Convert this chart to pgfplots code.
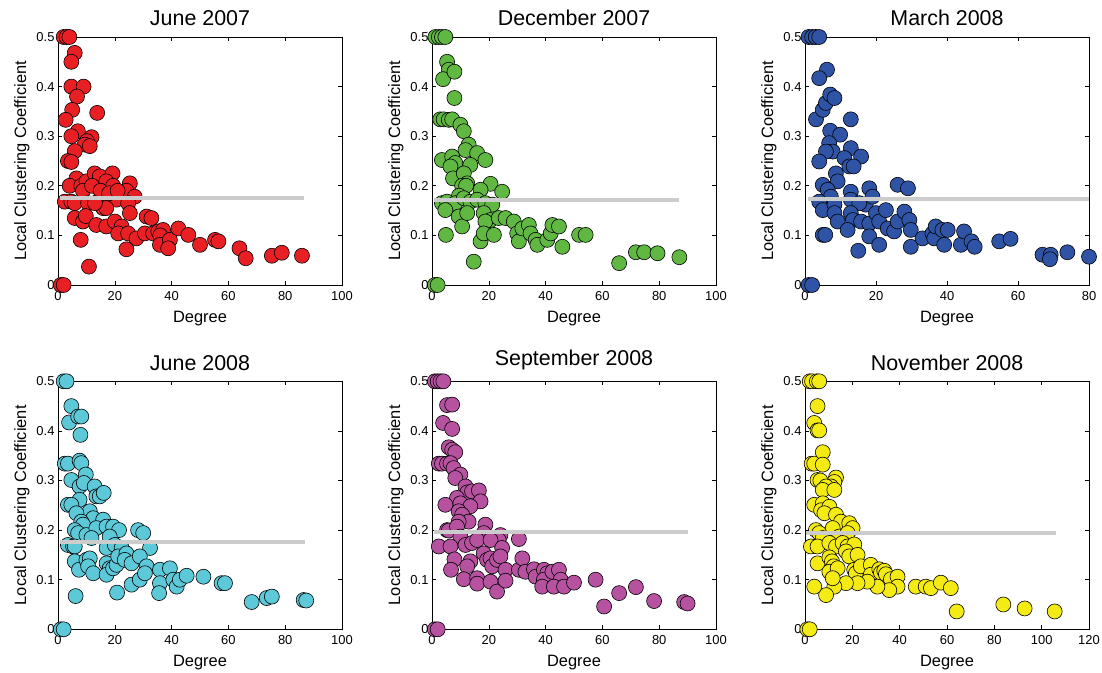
\documentclass[border=0pt]{standalone}
\usepackage{fontspec}
\setmainfont{Liberation Sans}
\usepackage{pgfplots}
\pgfplotsset{compat=1.18}
\definecolor{cred}{RGB}{232,32,36}
\definecolor{cgreen}{RGB}{96,184,66}
\definecolor{cblue}{RGB}{47,84,165}
\definecolor{ccyan}{RGB}{92,200,216}
\definecolor{cmag}{RGB}{182,82,160}
\definecolor{cyel}{RGB}{244,234,20}
\definecolor{meangray}{RGB}{204,204,204}
\pgfplotsset{
  panel/.style={
    scale only axis, width=284bp, height=248bp,
    xmin=0, ymin=0, ymax=0.5,
    clip=false, clip marker paths=true,
    axis line style={line width=0.8bp},
    tick align=inside, major tick length=4bp,
    every tick/.style={line width=0.6bp, black},
    ytick={0,0.1,0.2,0.3,0.4,0.5},
    yticklabels={0,0.1,0.2,0.3,0.4,0.5},
    tick label style={font=\fontsize{13}{15}\selectfont},
    xticklabel style={yshift=-2.5bp},
    label style={font=\fontsize{16.5}{19}\selectfont},
    xlabel style={yshift=-4bp},
    title style={font=\fontsize{21.5}{24}\selectfont, yshift=1.5bp},
    xlabel={Degree}, ylabel={Local Clustering Coefficient},
  },
  pts/.style={only marks, mark=*, mark size=7.5bp, mark options={fill=#1, draw=black, line width=0.6bp}},
  meanline/.style={no marks, line width=4bp, color=meangray},
}
\begin{document}
\begin{tikzpicture}
\path[use as bounding box] (0,0) rectangle (1102bp,673bp);
% ---------- June 2007
\begin{axis}[panel, at={(58bp,388bp)}, anchor=south west, xmax=100,
  xtick={0,20,40,60,80,100}, xticklabels={0,20,40,60,80,100}, title={June 2007}]
\addplot[pts=cred] coordinates {
(1,0) (2,0) (2,0.5) (3,0.5) (4,0.5)
(5.9,0.468) (4.7,0.45) (4.7,0.40) (9,0.40) (6.7,0.38) (13.8,0.347) (5,0.353) (2.7,0.333)
(7,0.31) (4.7,0.30) (11.8,0.298) (10.2,0.29) (9.4,0.283) (11.2,0.28) (5.9,0.27)
(3.5,0.25) (4.7,0.248) (6.5,0.215) (4.1,0.2) (8.2,0.2) (10,0.209) (12.9,0.225) (14.7,0.219)
(19.2,0.225) (17,0.209) (19.4,0.2) (25.3,0.205) (24.1,0.19) (27,0.178) (8.8,0.19)
(2.4,0.168) (4.7,0.168) (5.9,0.165) (10.6,0.165) (14.7,0.172) (15.9,0.155) (20.6,0.172)
(24.7,0.165) (17,0.155) (25.3,0.145) (12,0.2) (15,0.19) (18,0.185) (21,0.19) (13,0.165)
(5.9,0.135) (8.8,0.128) (9.8,0.139) (13.5,0.121) (17,0.118) (20,0.128) (22.4,0.118)
(21.2,0.104) (24.7,0.104) (27.6,0.094) (31.2,0.138) (32.9,0.135) (30.6,0.104) (33.5,0.104)
(35.3,0.108) (37,0.111) (36,0.1) (35.9,0.081) (39.4,0.091) (38.8,0.074) (42.4,0.114)
(45.9,0.101) (50,0.081) (55.3,0.091) (56.5,0.088) (63.9,0.074) (66.1,0.054) (75.3,0.059)
(78.8,0.065) (85.9,0.059) (8,0.091) (24.1,0.072) (10.9,0.037)
};
\addplot[meanline] coordinates {(0.6,0.175) (86.5,0.175)};
\end{axis}
% ---------- December 2007
\begin{axis}[panel, at={(432bp,388bp)}, anchor=south west, xmax=100,
  xtick={0,20,40,60,80,100}, xticklabels={0,20,40,60,80,100}, title={December 2007}]
\addplot[pts=cgreen] coordinates {
(1,0) (2,0) (1.2,0.5) (2.4,0.5) (3.5,0.5) (4.7,0.5)
(5.3,0.45) (5.9,0.434) (3.9,0.415) (7.9,0.43) (7.9,0.377)
(2.9,0.334) (4.1,0.334) (5.9,0.333) (7.1,0.334) (10,0.323) (11.2,0.31)
(12.9,0.283) (11.8,0.272) (15.9,0.266) (13.5,0.242) (18.8,0.252) (3.5,0.252) (7.1,0.259)
(8.2,0.246) (6.5,0.239) (7.4,0.215) (11.2,0.225) (12.4,0.205) (10.6,0.2) (20.6,0.204)
(24.7,0.188) (17.1,0.192) (12,0.2) (9.5,0.18)
(3.5,0.165) (5.3,0.168) (8.2,0.165) (11.2,0.175) (13.5,0.168) (15.9,0.172) (18.8,0.165)
(21.2,0.162) (4.7,0.151) (9.4,0.138) (10.6,0.118) (12.4,0.145) (18.2,0.145) (20.6,0.131)
(18.8,0.128) (17.1,0.088) (18.2,0.104) (21.8,0.101) (23.5,0.135) (25.9,0.135) (28.8,0.128)
(30,0.104) (30.6,0.088) (31.8,0.114) (34.1,0.121) (34.7,0.104) (36.5,0.091) (37.1,0.081)
(40.6,0.091) (41.8,0.104) (42.4,0.121) (44.7,0.118) (45.9,0.077) (51.8,0.101) (54.1,0.101)
(65.9,0.044) (71.8,0.066) (74.7,0.066) (79.4,0.064) (87.1,0.056) (4.9,0.101) (14.7,0.047)
};
\addplot[meanline] coordinates {(0.6,0.172) (87,0.172)};
\end{axis}
% ---------- March 2008
\begin{axis}[panel, at={(805bp,388bp)}, anchor=south west, xmax=80,
  xtick={0,20,40,60,80}, xticklabels={0,20,40,60,80}, title={March 2008}]
\addplot[pts=cblue] coordinates {
(1,0) (2,0) (1,0.5) (2,0.5) (3,0.5) (4,0.5)
(6.2,0.434) (4,0.417) (3.1,0.334) (5,0.353) (5.9,0.367) (7.1,0.384) (8.3,0.377) (12.9,0.334)
(7.1,0.311) (9.9,0.303) (6.8,0.286) (7.8,0.269) (5.9,0.269) (12.9,0.276) (15.8,0.259)
(11.1,0.256) (12.5,0.239) (13.7,0.239) (8.7,0.225) (9.2,0.209) (4,0.249) (26.1,0.202)
(29,0.195) (18.1,0.195) (12.9,0.188) (5,0.202) (6.4,0.192) (7.3,0.178)
(4,0.168) (5,0.151) (8.3,0.162) (12.9,0.172) (17.1,0.162) (19,0.178) (15.3,0.165)
(8.3,0.145) (9.2,0.128) (12.9,0.145) (13.5,0.131) (12,0.111) (15.8,0.128) (18.1,0.124)
(20,0.145) (20.9,0.128) (22.8,0.151) (23.3,0.114) (25.1,0.108) (26.1,0.128) (28,0.148)
(29.4,0.131) (29.8,0.111) (29.8,0.077) (33.1,0.094) (35.9,0.104) (36.4,0.094) (36.8,0.118)
(38.7,0.111) (39.2,0.081) (40.2,0.111) (43.9,0.081) (44.8,0.108) (46.9,0.088) (47.8,0.077)
(54.7,0.088) (57.9,0.093) (66.9,0.061) (69.2,0.061) (69,0.052) (73.9,0.066) (80,0.057)
(5,0.101) (5.7,0.101) (15,0.069) (18.1,0.098) (20.9,0.081)
};
\addplot[meanline] coordinates {(0.8,0.174) (80,0.174)};
\end{axis}
% ---------- June 2008
\begin{axis}[panel, at={(58bp,43.7bp)}, anchor=south west, xmax=100,
  xtick={0,20,40,60,80,100}, xticklabels={0,20,40,60,80,100}, title={June 2008}]
\addplot[pts=ccyan] coordinates {
(1,0) (2,0) (2,0.5) (3,0.5)
(4.7,0.45) (3.9,0.417) (7.1,0.429) (8.2,0.429) (7.9,0.392)
(2.4,0.334) (3.5,0.334) (7.6,0.34) (8.2,0.335) (9.8,0.312) (4.7,0.301) (7.6,0.288)
(9.1,0.295) (12.9,0.288) (13.5,0.268) (14.7,0.268) (16.1,0.275) (7.6,0.261) (3.5,0.251)
(4.7,0.251) (11.2,0.238) (6.5,0.234) (12.4,0.224) (15.9,0.221) (8.2,0.217) (8.8,0.211)
(5.9,0.2) (7.1,0.194) (10,0.19) (13.5,0.204) (17.1,0.207) (19.4,0.207) (21.5,0.2)
(18.2,0.187) (28.2,0.2) (30,0.194) (11.8,0.184)
(3.5,0.17) (5.3,0.167) (5.9,0.167) (17.1,0.164) (20,0.17) (22.4,0.164) (32.4,0.164)
(5.9,0.137) (7.4,0.12) (10,0.14) (11.2,0.143) (10.6,0.127) (12.4,0.113) (17.1,0.133)
(18.2,0.123) (17.1,0.11) (19.4,0.123) (20.6,0.13) (21.2,0.147) (24.1,0.153) (23.5,0.14)
(25.9,0.133) (28.8,0.147) (31.2,0.127) (25.9,0.09) (28.8,0.1) (30.6,0.113) (35.9,0.12)
(35.9,0.093) (35.6,0.073) (39.4,0.123) (40.6,0.1) (41.8,0.086) (42.9,0.1) (45.3,0.108)
(51.2,0.106) (57.6,0.093) (58.8,0.093) (68.2,0.055) (73.5,0.063) (75.3,0.066) (86.5,0.059)
(87.4,0.058) (6.2,0.067) (20.8,0.074)
};
\addplot[meanline] coordinates {(0.6,0.177) (87,0.177)};
\end{axis}
% ---------- September 2008
\begin{axis}[panel, at={(432bp,43.7bp)}, anchor=south west, xmax=100,
  xtick={0,20,40,60,80,100}, xticklabels={0,20,40,60,80,100}, title={September 2008}]
\addplot[pts=cmag] coordinates {
(1,0) (2,0) (1,0.5) (2,0.5) (3,0.5) (4,0.5)
(5.3,0.452) (7.1,0.453) (3.9,0.416) (7.1,0.404)
(2.4,0.334) (3.5,0.334) (5.3,0.334) (5.9,0.367) (7.1,0.362) (8.2,0.357) (6.5,0.335)
(7.6,0.325) (10,0.312) (8.2,0.305) (11.8,0.288) (12.4,0.276) (14.1,0.278) (16.5,0.28)
(17.1,0.258) (8.8,0.265) (10,0.254) (4.7,0.251) (13.5,0.248) (9.4,0.238) (10.6,0.231)
(12.9,0.217) (9.4,0.217) (18.8,0.211) (5.3,0.2) (5.9,0.199) (8.8,0.207) (18.2,0.194)
(24.1,0.19) (23.5,0.18) (30.6,0.182) (10,0.187)
(2.4,0.167) (6.5,0.167) (11.8,0.17) (14.1,0.174) (15.9,0.18) (20.6,0.18) (24.7,0.164)
(7.9,0.141) (6.7,0.12) (13.5,0.137) (12.4,0.127) (18.2,0.153) (19.4,0.14) (20.6,0.143)
(21.2,0.127) (22.9,0.14) (24.1,0.147) (25.9,0.12) (30.6,0.12) (31.8,0.143) (32.9,0.116)
(35.9,0.121) (36.5,0.106) (39.4,0.12) (40.6,0.113) (39.4,0.1) (38.8,0.086) (42.4,0.116)
(44.7,0.12) (45.3,0.1) (42.9,0.086) (46.5,0.086) (50,0.094) (57.6,0.1) (60.6,0.046)
(65.9,0.073) (71.8,0.085) (78.2,0.057) (88.8,0.055) (90,0.052)
(11.2,0.101) (15.9,0.103) (15.9,0.092) (20.6,0.096) (22.9,0.076) (25.9,0.098)
};
\addplot[meanline] coordinates {(0.6,0.196) (90,0.196)};
\end{axis}
% ---------- November 2008
\begin{axis}[panel, at={(805bp,43.7bp)}, anchor=south west, xmax=120,
  xtick={0,20,40,60,80,100,120}, xticklabels={0,20,40,60,80,100,120}, title={November 2008}]
\addplot[pts=cyel] coordinates {
(1,0) (2,0) (2,0.5) (3,0.5) (5,0.5) (6,0.5)
(5.3,0.45) (3.9,0.416) (5.3,0.401) (6,0.401)
(2.8,0.334) (3.9,0.334) (7.5,0.357) (7.5,0.332)
(5.3,0.301) (6.5,0.3) (13.1,0.306) (12.4,0.297) (11,0.288) (8.9,0.288) (7.5,0.281)
(12.4,0.281) (3.9,0.251) (7.5,0.254) (6.8,0.24) (10.3,0.247) (8.2,0.234) (13.1,0.231)
(15.2,0.217) (18.7,0.214) (20.1,0.204) (11.7,0.204) (4.6,0.2) (6,0.194) (7.5,0.184)
(14.5,0.187) (18,0.194)
(2.5,0.167) (5.3,0.167) (10.3,0.174) (13.1,0.167) (15.9,0.174) (18,0.167) (20.8,0.171)
(5.3,0.133) (10.3,0.145) (11.4,0.137) (12.1,0.127) (10.3,0.116) (13.8,0.123) (17.3,0.157)
(18.7,0.147) (22.2,0.15) (20.8,0.12) (21.5,0.113) (23.6,0.127) (27.8,0.13) (27.8,0.11)
(31.4,0.121) (32.1,0.114) (33.5,0.118) (34.2,0.111) (36.3,0.101) (39.1,0.106) (39.1,0.086)
(35.6,0.079) (30.6,0.086) (26.4,0.096) (22.2,0.093) (17.3,0.093) (12.4,0.086) (11.7,0.103)
(8.9,0.069) (3.9,0.086) (46.8,0.086) (51,0.086) (53.2,0.083) (57.4,0.094) (61.6,0.083)
(64.1,0.036) (83.8,0.05) (92.8,0.042) (105.5,0.036)
};
\addplot[meanline] coordinates {(0.4,0.195) (106,0.195)};
\end{axis}
\end{tikzpicture}
\end{document}
